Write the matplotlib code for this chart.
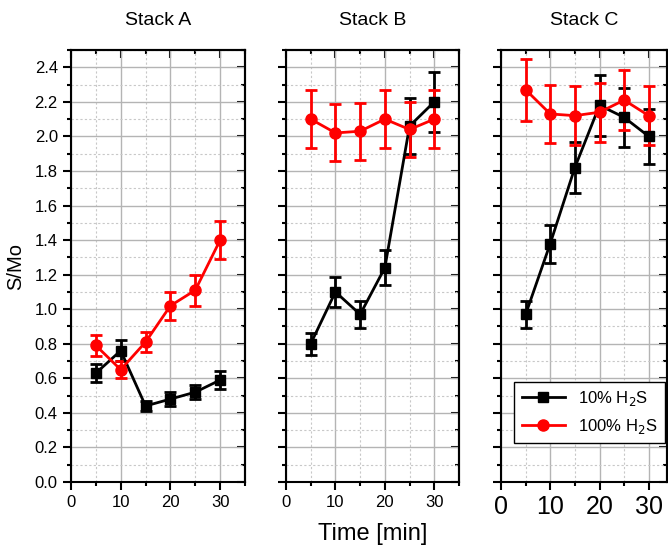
import matplotlib.pyplot as plt
from matplotlib.ticker import MultipleLocator, NullFormatter

plt.rcParams['font.family'] = ['Liberation Sans', 'DejaVu Sans']

time = [5, 10, 15, 20, 25, 30]

# Stack A
a_10 = [0.63, 0.76, 0.44, 0.48, 0.52, 0.59]
a_10_err = [0.05, 0.06, 0.03, 0.04, 0.04, 0.05]
a_100 = [0.79, 0.65, 0.81, 1.02, 1.11, 1.40]
a_100_err = [0.06, 0.05, 0.06, 0.08, 0.09, 0.11]

# Stack B
b_10 = [0.80, 1.10, 0.97, 1.24, 2.06, 2.20]
b_10_err = [0.065, 0.085, 0.08, 0.10, 0.16, 0.175]
b_100 = [2.10, 2.02, 2.03, 2.10, 2.04, 2.10]
b_100_err = [0.17, 0.165, 0.165, 0.17, 0.16, 0.17]

# Stack C
c_10 = [0.97, 1.38, 1.82, 2.18, 2.11, 2.00]
c_10_err = [0.08, 0.11, 0.15, 0.175, 0.17, 0.16]
c_100 = [2.27, 2.13, 2.12, 2.14, 2.21, 2.12]
c_100_err = [0.18, 0.17, 0.17, 0.17, 0.175, 0.17]

titles = ['Stack A', 'Stack B', 'Stack C']
series = [(a_10, a_10_err, a_100, a_100_err),
          (b_10, b_10_err, b_100, b_100_err),
          (c_10, c_10_err, c_100, c_100_err)]

fig = plt.figure(figsize=(6.68, 5.55), dpi=100)
W, H = 668, 555
boxes = [(71, 174, 35), (286, 173, 35), (501, 166, 33.7)]
bottom_px, top_px = 482, 50


def set_locators(axis_x, axis_y):
    if axis_x is not None:
        axis_x.set_major_locator(MultipleLocator(10))
        axis_x.set_minor_locator(MultipleLocator(5))
    if axis_y is not None:
        axis_y.set_major_locator(MultipleLocator(0.2))
        axis_y.set_minor_locator(MultipleLocator(0.1))


axes = []
for i, (left, width, xmax) in enumerate(boxes):
    ax = fig.add_axes([left / W, (H - bottom_px) / H, width / W, (bottom_px - top_px) / H])
    axes.append(ax)
    s10, e10, s100, e100 = series[i]
    h10 = ax.errorbar(time, s10, yerr=e10, color='black', marker='s', markersize=7,
                      lw=2, elinewidth=2, capsize=4, capthick=2, zorder=3)
    h100 = ax.errorbar(time, s100, yerr=e100, color='#ff0000', marker='o', markersize=8,
                       lw=2, elinewidth=2, capsize=4, capthick=2, zorder=3)
    ax.set_xlim(0, xmax)
    ax.set_ylim(0, 2.5)
    set_locators(ax.xaxis, ax.yaxis)
    ax.grid(which='major', color='#b4b4b4', lw=1, ls='-')
    ax.grid(which='minor', color='#c8c8c8', lw=0.8, ls=(0, (2, 2)))
    ax.set_axisbelow(True)
    for sp in ax.spines.values():
        sp.set_linewidth(1.5)
    ax.tick_params(which='both', direction='out', width=1.5)
    ax.tick_params(which='major', length=6)
    ax.tick_params(which='minor', length=3)

    # inward ticks on top and right
    top = ax.secondary_xaxis('top')
    right = ax.secondary_yaxis('right')
    set_locators(top.xaxis, None)
    set_locators(None, right.yaxis)
    for sec in (top, right):
        sec.tick_params(which='both', direction='in', width=1.5)
        sec.tick_params(which='major', length=6)
        sec.tick_params(which='minor', length=3)
        sec.spines[:].set_linewidth(1.5)
    top.xaxis.set_major_formatter(NullFormatter())
    right.yaxis.set_major_formatter(NullFormatter())

    ax.set_title(titles[i], fontsize=14, pad=18)
    if i == 0:
        ax.set_ylabel('S/Mo', fontsize=14.5, labelpad=7)
        ax.tick_params(labelsize=12)
        ax.yaxis.set_major_formatter(plt.FormatStrFormatter('%.1f'))
    else:
        ax.tick_params(labelleft=False)
        ax.tick_params(axis='x', labelsize=12 if i == 1 else 18)

axes[1].set_xlabel('Time [min]', fontsize=17, labelpad=9)

leg = axes[2].legend([h10.lines[0], h100.lines[0]], ['10% H$_2$S', '100% H$_2$S'],
                     loc='lower right', bbox_to_anchor=(0.99, 0.09), fontsize=12,
                     frameon=True, fancybox=False, edgecolor='black', framealpha=1,
                     borderpad=0.45, handlelength=2.6, borderaxespad=0)
leg.get_frame().set_linewidth(1)

fig.savefig('out.png', dpi=100)
